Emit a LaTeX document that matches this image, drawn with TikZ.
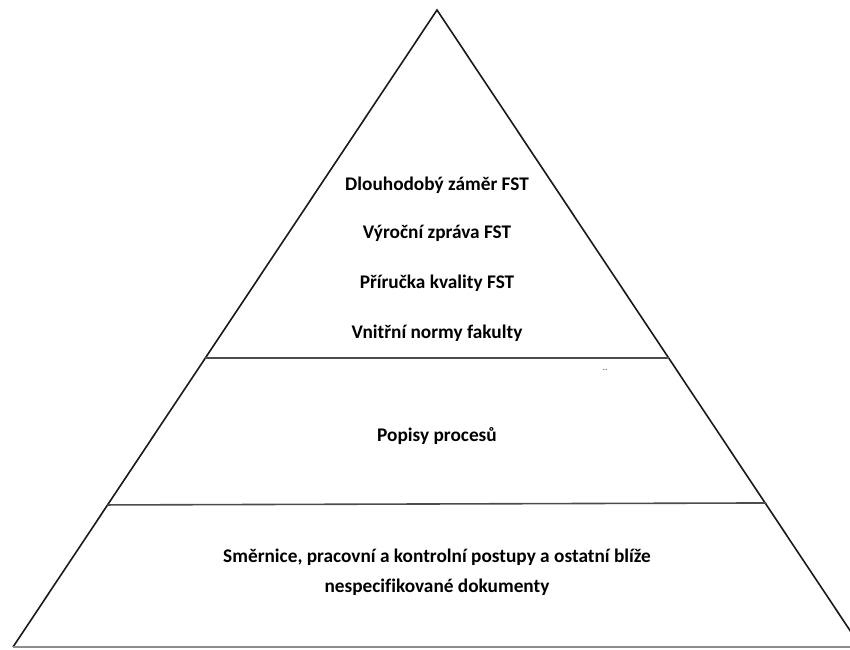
\documentclass[tikz,border=0pt]{standalone}
\usepackage{fontspec}
\setmainfont[Ligatures=NoCommon]{Carlito}
\usetikzlibrary{calc}
\tikzset{
  side/.style={line width=1.6pt, draw=black!90},
  divider/.style={line width=1.6pt, draw=black!70},
  baseline/.style={line width=1.6pt, draw=black!45},
  label/.style={font=\bfseries\fontsize{19.3}{23}\selectfont, text=black, inner sep=0pt, align=center}
}
\begin{document}
\begin{tikzpicture}[x=1pt,y=-1pt]
  \useasboundingbox (0,0) rectangle (850,649);
  \clip (0,0) rectangle (850,649);
  % corners of the pyramid (right base corner runs past the edge)
  \coordinate (apex) at (437,10);
  \coordinate (bl) at (13,647);
  \coordinate (br) at (861,647);
  % ends of the two dividing lines
  \coordinate (d1l) at ($(apex)!0.546!(bl)$);
  \coordinate (d1r) at ($(apex)!0.546!(br)$);
  \coordinate (d2l) at ($(apex)!0.777!(bl)$);
  \coordinate (d2r) at ($(apex)!0.777!(br)$);
  \coordinate (baseend) at (850,647);

  \draw[side] (bl) -- (apex) -- (br);
  \draw[divider] (d1l) -- (d1r);
  \draw[divider] (d2l) -- ($(d2r)+(0,-2)$);
  \draw[baseline] (bl) -- (baseend);

  % top tier
  \node[label] (t1) at (437,185) {Dlouhodobý záměr FST};
  \node[label] (t2) at (437,233) {Výroční zpráva FST};
  \node[label] (t3) at (437,283) {Příručka kvality FST};
  \node[label] (t4) at (437,333) {Vnitřní normy fakulty};
  \node[font=\fontsize{14}{14}\selectfont, text=black!45, inner sep=0pt] (mark) at (605,374) {¨};
  % middle tier
  \node[label] (m1) at (437,436) {Popisy procesů};
  % bottom tier
  \node[label] (b1) at (437,572) {Směrnice, pracovní a kontrolní postupy a ostatní blíže\\[7pt]nespecifikované dokumenty};
\end{tikzpicture}
\end{document}
